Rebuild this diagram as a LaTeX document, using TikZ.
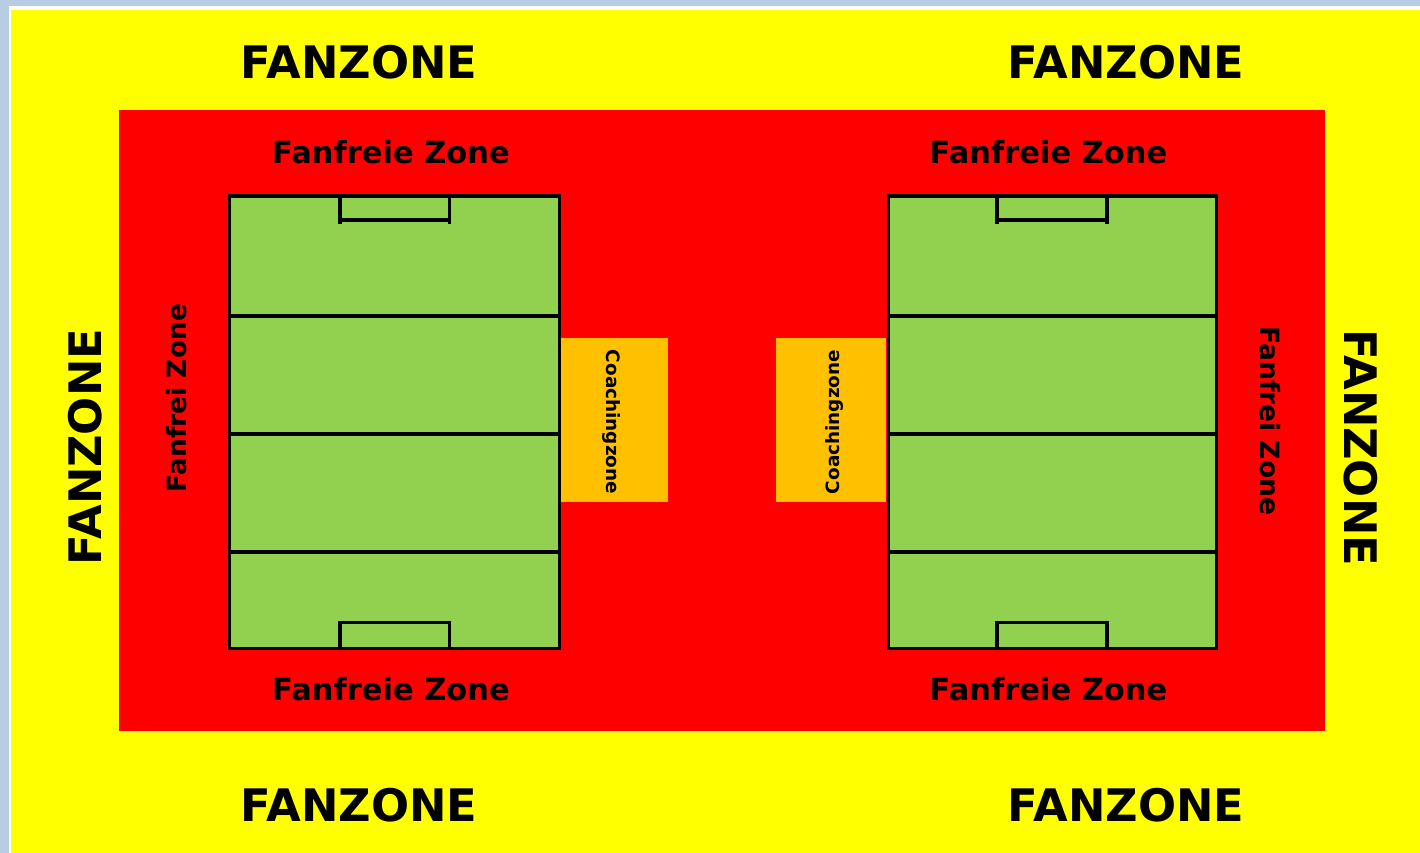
\documentclass[tikz,border=0pt]{standalone}
\usepackage{fontspec}
\setmainfont{DejaVu Sans}
\definecolor{framecol}{HTML}{B8CCE4}
\definecolor{pitchcol}{HTML}{92D050}
\definecolor{coachcol}{HTML}{FFC000}
\definecolor{fanyellow}{HTML}{FFFF00}
\definecolor{fanred}{HTML}{FF0000}
\tikzset{
  bigtext/.style={font=\fontsize{44.8}{45}\selectfont\bfseries,inner sep=0pt},
  midtext/.style={font=\fontsize{30.5}{30}\selectfont\bfseries,inner sep=0pt},
  sidetext/.style={font=\fontsize{26.5}{27}\selectfont\bfseries,inner sep=0pt},
  coachtext/.style={font=\fontsize{18.4}{19}\selectfont\bfseries,inner sep=0pt},
  pitchline/.style={draw=black,line width=3.7pt}
}
\begin{document}
\begin{tikzpicture}[x=1pt,y=-1pt]
\useasboundingbox (0,0) rectangle (1420,853);
\fill[framecol] (0,0) rectangle (1420,853);
\fill[white] (9,6) rectangle (1420,853);
\fill[fanyellow] (11,10) rectangle (1420,853);
\fill[fanred] (119,110) rectangle (1325,731);
\fill[coachcol] (561,338) rectangle (668,502);
\fill[coachcol] (776,338) rectangle (886,502);
% left pitch
\draw[pitchline,fill=pitchcol] (229.5,196) rectangle (559.5,648.5);
\draw[pitchline] (229.5,316) -- (559.5,316) (229.5,434) -- (559.5,434) (229.5,552) -- (559.5,552);
\draw[pitchline] (340,196) -- (340,224) (449.5,196) -- (449.5,224) (340,220) -- (449.5,220);
\draw[pitchline] (340,648.5) -- (340,622.5) -- (449.5,622.5) -- (449.5,648.5);
% right pitch
\draw[pitchline,fill=pitchcol] (888.5,196) rectangle (1216.5,648.5);
\draw[pitchline] (888.5,316) -- (1216.5,316) (888.5,434) -- (1216.5,434) (888.5,552) -- (1216.5,552);
\draw[pitchline] (997,196) -- (997,224) (1107,196) -- (1107,224) (997,220) -- (1107,220);
\draw[pitchline] (997,648.5) -- (997,622.5) -- (1107,622.5) -- (1107,648.5);
% texts
\node[bigtext] (t1) at (359,62) {FANZONE};
\node[bigtext] (t2) at (1126,62) {FANZONE};
\node[bigtext] (t3) at (359,805) {FANZONE};
\node[bigtext] (t4) at (1126,805) {FANZONE};
\node[bigtext,rotate=90] (t5) at (85.5,447) {FANZONE};
\node[bigtext,rotate=-90] (t6) at (1361,448) {FANZONE};
\node[midtext] (m1) at (391,152.5) {Fanfreie Zone};
\node[midtext] (m2) at (1048.5,152.5) {Fanfreie Zone};
\node[midtext] (m3) at (391,689.5) {Fanfreie Zone};
\node[midtext] (m4) at (1048.5,689.5) {Fanfreie Zone};
\node[sidetext,rotate=90] (s1) at (177,398) {Fanfrei Zone};
\node[sidetext,rotate=-90] (s2) at (1270,421) {Fanfrei Zone};
\node[coachtext,rotate=-90] (c1) at (611,422) {Coachingzone};
\node[coachtext,rotate=90] (c2) at (834,422) {Coachingzone};
\end{tikzpicture}
\end{document}
